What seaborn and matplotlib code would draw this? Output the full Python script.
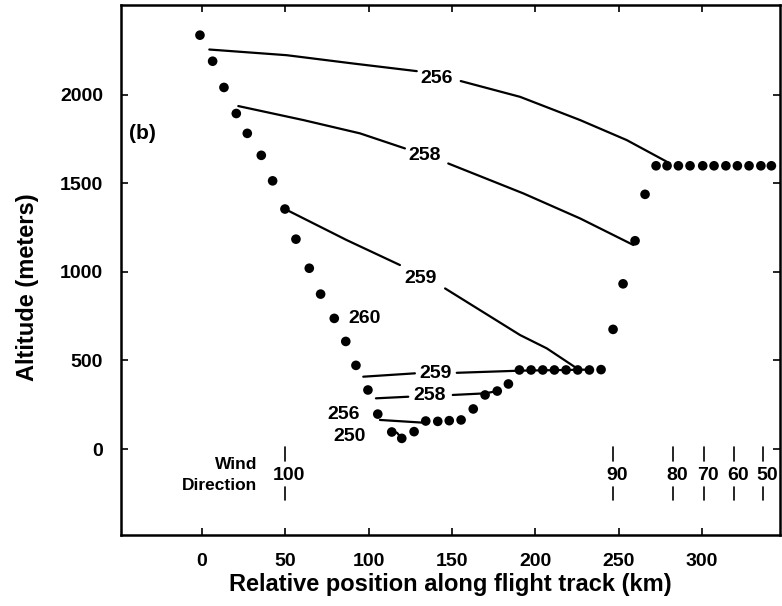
import matplotlib
matplotlib.use("Agg")
import matplotlib.pyplot as plt
import seaborn as sns
import pandas as pd

# flight track dots (km, m)
descent_km = [-1.2, 6.4, 13.2, 20.6, 27.2, 35.6, 42.4, 49.8, 56.4, 64.4, 71.2, 79.4, 86.3,
              92.4, 99.6, 105.5, 113.9, 119.9, 127.3, 134.3, 141.5, 148.4, 155.5, 162.8,
              169.9, 177.2, 183.9]
descent_m = [2335, 2188, 2040, 1893, 1781, 1657, 1513, 1354, 1184, 1020, 874, 737, 607,
             472, 333, 197, 96, 60, 98, 158, 156, 160, 164, 226, 305, 327, 367]
level_km = [190.5, 197.5, 204.5, 211.5, 218.5, 225.5, 232.5, 239.5]
level_m = [446, 446, 446, 446, 446, 446, 446, 448]
climb_km = [246.7, 252.7, 259.9, 265.9]
climb_m = [675, 932, 1175, 1437]
track_km = [272.5, 279.1, 285.9, 292.9, 300.5, 307.3, 314.4, 321.3, 328.3, 335.4, 341.7]
track_m = [1598, 1598, 1598, 1598, 1598, 1598, 1598, 1598, 1598, 1598, 1598]

# isentropes, split where the label sits
theta_256_a = ([4.4, 50.8, 90.8, 128.9], [2254, 2222, 2175, 2132])
theta_256_b = ([155.3, 190.9, 226.9, 254.9, 280.9], [2076, 1987, 1856, 1743, 1611])
theta_258_a = ([21.8, 60.8, 94.8, 121.8], [1935, 1856, 1781, 1696])
theta_258_b = ([147.8, 192.9, 226.9, 258.9], [1611, 1442, 1301, 1151])
theta_259_a = ([49.8, 86.8, 118.8], [1354, 1179, 1038])
theta_259_b = ([145.9, 190.9, 206.9, 225.0], [906, 643, 568, 455])
low_259_a = ([96.8, 127.8], [408, 427])
low_259_b = ([152.9, 190.9, 232.0], [430, 442, 448])
low_258_a = ([104.4, 123.8], [286, 295])
low_258_b = ([150.5, 169.9, 177.2], [305, 314, 327])
low_256 = ([106.8, 133.9], [164, 148])
hook_250 = ([113.9, 117.0, 119.9], [96, 92, 60])

label_text = ["256", "258", "259", "260", "259", "258", "256", "250"]
label_km = [140.9, 133.8, 130.9, 97.8, 139.9, 136.9, 84.8, 88.8]
label_m = [2091, 1658, 963, 737, 427, 301, 192, 69]

wind_dir = ["100", "90", "80", "70", "60", "50"]
wind_km = [49.8, 246.9, 282.9, 301.3, 319.3, 336.9]

sns.set_style("ticks")
plt.rcParams['font.family'] = ['Liberation Sans', 'DejaVu Sans']
plt.rcParams['font.weight'] = 'bold'
for key in ['text.color', 'axes.labelcolor', 'xtick.color', 'ytick.color', 'axes.edgecolor']:
    plt.rcParams[key] = 'black'

fig = plt.figure(figsize=(7.82, 6.06), dpi=100)
ax = fig.add_axes([0.1547, 0.1172, 0.843, 0.8745])

dots = pd.DataFrame({
    "km": descent_km + level_km + climb_km + track_km,
    "m": descent_m + level_m + climb_m + track_m,
})
sns.scatterplot(data=dots, x="km", y="m", color="black", s=48, edgecolor="none", ax=ax, zorder=3)

for xs, ys in [theta_256_a, theta_256_b, theta_258_a, theta_258_b, theta_259_a, theta_259_b,
               low_259_a, low_259_b, low_258_a, low_258_b, low_256, hook_250]:
    seg = pd.DataFrame({"km": xs, "m": ys})
    sns.lineplot(data=seg, x="km", y="m", sort=False, color="black", lw=1.6, ax=ax)

for t, x, y in zip(label_text, label_km, label_m):
    ax.text(x, y, t, ha="center", va="center", fontsize=14, fontweight="bold")

ax.text(-36, 1781, "(b)", ha="center", va="center", fontsize=15, fontweight="bold")

# wind direction marks
for t, x in zip(wind_dir, wind_km):
    ax.plot([x, x], [11, -68], color="black", lw=1.2)
    ax.plot([x, x], [-214, -288], color="black", lw=1.2)
    ax.text(x + 2.5, -147, t, ha="center", va="center", fontsize=14, fontweight="bold")
ax.text(33.4, -88, "Wind", ha="right", va="center", fontsize=12.5, fontweight="bold")
ax.text(33.4, -205, "Direction", ha="right", va="center", fontsize=12.5, fontweight="bold")

ax.set_xlim(-48.6, 347)
ax.set_ylim(-485, 2505)
ax.set_xticks([0, 50, 100, 150, 200, 250, 300])
ax.set_yticks([0, 500, 1000, 1500, 2000])
ax.tick_params(direction="in", top=True, right=True, length=5, width=1.2,
               labelsize=14, pad=13)
for lab in ax.get_xticklabels() + ax.get_yticklabels():
    lab.set_fontweight("bold")
for sp in ax.spines.values():
    sp.set_linewidth(1.8)
ax.set_xlabel("Relative position along flight track (km)", fontsize=17, fontweight="bold", labelpad=2)
ax.set_ylabel("Altitude (meters)", fontsize=17, fontweight="bold")
ax.yaxis.set_label_coords(-0.125, 0.468)

fig.savefig("out.png", dpi=100)
